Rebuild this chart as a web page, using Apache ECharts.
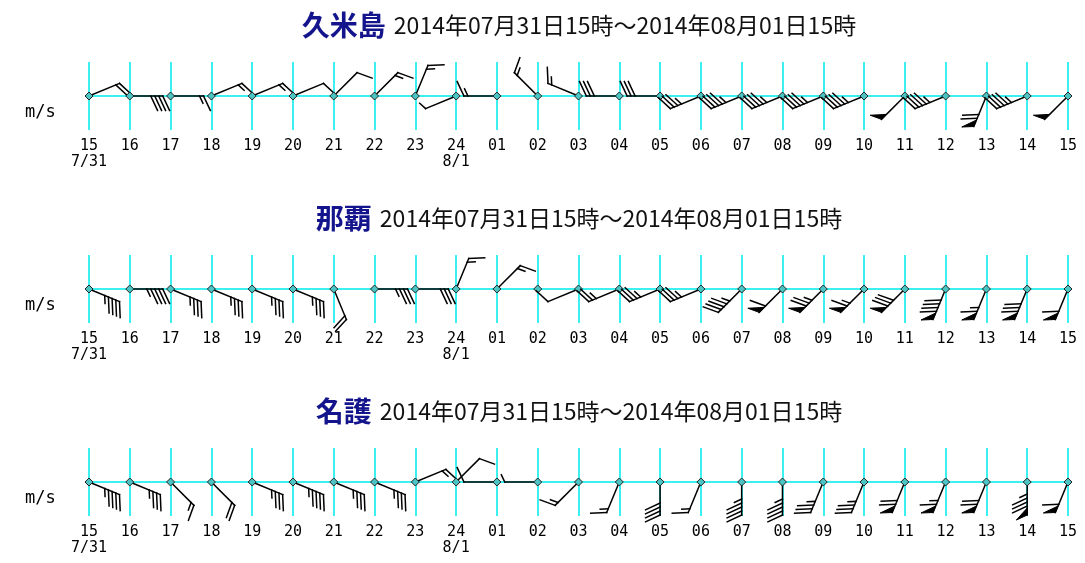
<!DOCTYPE html>
<html>
<head>
<meta charset="utf-8">
<script src="https://cdn.jsdelivr.net/npm/echarts@6/dist/echarts.min.js"></script>
<style>html,body{margin:0;padding:0;background:#fff}#c{width:1085px;height:563px}</style>
</head>
<body>
<div id="c"></div>
<script>
// ---- data ----
const hourLabels = ['15','16','17','18','19','20','21','22','23','24','01','02','03','04','05','06','07','08','09','10','11','12','13','14','15'];
const dateLabels = ['7/31','','','','','','','','','8/1','','','','','','','','','','','','','','',''];
const stationNames = ['久米島','那覇','名護'];
const periodText = '2014年07月31日15時～2014年08月01日15時';

// wind direction (degrees, from which the wind blows) and speed (m/s)
const kumeDir = [67.5,90,90,67.5,67.5,67.5,45,45,22.5,247.5,270,315,292.5,270,270,247.5,247.5,247.5,247.5,247.5,225,247.5,202.5,247.5,225];
const kumeSpd = [4,8,3,3,3,2,2,3,3,1,3,3,3,6,6,7,9,9,9,9,10,9,14,9,10];
const nahaDir = [112.5,90,112.5,112.5,112.5,112.5,157.5,90,90,22.5,45,0,247.5,247.5,247.5,247.5,225,225,225,225,225,202.5,202.5,202.5,202.5];
const nahaSpd = [9,9,7,7,7,7,4,7,6,3,3,0,2,5,7,7,9,12,15,13,16,18,13,16,12];
const nagoDir = [112.5,112.5,135,135,112.5,112.5,112.5,112.5,67.5,45,270,270,225,202.5,180,202.5,180,180,202.5,202.5,202.5,202.5,202.5,180,202.5];
const nagoSpd = [9,7,3,4,7,9,7,7,3,2,2,1,3,3,8,3,9,9,7,7,14,13,14,17,12];

const dirs = [kumeDir, nahaDir, nagoDir];
const spds = [kumeSpd, nahaSpd, nagoSpd];

// ---- glyph style ----
const SHAFT = 33, LONG = 16, SHORT = 8, GAP = 4, PEN_LEN = 12, PEN_W = 7, BARB_ROT = 65;
const CYAN = '#3cf0f0';

function renderBarb(params, api) {
  const i = api.value(0);
  const dir = api.value(2);
  const spd = api.value(3);
  const p = api.coord([i, 0]);
  const children = [];
  const st = {stroke: '#000', lineWidth: 1.5, lineCap: 'square'};
  if (spd > 0) {
    const rad = dir * Math.PI / 180;
    const ux = Math.sin(rad), uy = -Math.cos(rad);
    const at = d => [p[0] + ux * d, p[1] + uy * d];
    const tip = at(SHAFT);
    children.push({type: 'line', shape: {x1: p[0], y1: p[1], x2: tip[0], y2: tip[1]}, style: st});
    const a = Math.atan2(uy, ux) + BARB_ROT * Math.PI / 180;
    const bx = Math.cos(a), by = Math.sin(a);
    const pen = Math.floor(spd / 10);
    const rem = spd - pen * 10;
    const lng = Math.floor(rem / 2);
    const sht = rem - lng * 2;
    let d = SHAFT;
    for (let k = 0; k < pen; k++) {
      const q0 = at(d), q1 = at(d - PEN_W);
      children.push({type: 'polygon', shape: {points: [q0, [q0[0] + bx * PEN_LEN, q0[1] + by * PEN_LEN], q1]},
        style: {fill: '#000', stroke: '#000', lineWidth: 1}});
      d -= PEN_W + 2;
    }
    for (let k = 0; k < lng; k++) {
      const q = at(d);
      children.push({type: 'line', shape: {x1: q[0], y1: q[1], x2: q[0] + bx * LONG, y2: q[1] + by * LONG}, style: st});
      d -= GAP;
    }
    for (let k = 0; k < sht; k++) {
      const q = at(d);
      children.push({type: 'line', shape: {x1: q[0], y1: q[1], x2: q[0] + bx * SHORT, y2: q[1] + by * SHORT}, style: st});
      d -= GAP;
    }
  }
  const r = 4;
  children.push({type: 'polygon', shape: {points: [[p[0], p[1] - r], [p[0] + r, p[1]], [p[0], p[1] + r], [p[0] - r, p[1]]]},
    style: {fill: '#4cc4c4', stroke: '#222', lineWidth: 1}});
  return {type: 'group', children};
}

const tops = [62, 255, 448];
const grids = [], xAxes = [], yAxes = [], series = [], graphics = [];
tops.forEach((t, g) => {
  grids.push({left: 89, right: 17, top: t, height: 68, outerBoundsMode: 'none', containLabel: false});
  xAxes.push({
    type: 'value', gridIndex: g, min: 0, max: 24, interval: 1,
    axisLine: {show: true, onZero: true, lineStyle: {color: CYAN, width: 2}},
    axisTick: {show: false},
    splitLine: {show: true, lineStyle: {color: CYAN, width: 2}},
    axisLabel: {
      margin: 8, color: '#000', fontSize: 15, lineHeight: 16,
      fontFamily: '"DejaVu Sans Mono", monospace', showMinLabel: true, showMaxLabel: true,
      formatter: v => hourLabels[v] + (dateLabels[v] ? '\n' + dateLabels[v] : '')
    }
  });
  yAxes.push({type: 'value', gridIndex: g, min: -1, max: 1, show: false});
  series.push({
    type: 'custom', xAxisIndex: g, yAxisIndex: g, z: 5, silent: true,
    renderItem: renderBarb,
    encode: {x: 0, y: 1},
    data: dirs[g].map((d, i) => [i, 0, d, spds[g][i]])
  });
  graphics.push({
    type: 'text', x: 579, y: t - 37,
    style: {
      text: '{n|' + stationNames[g] + '}{d|' + periodText + '}',
      align: 'center', verticalAlign: 'middle',
      rich: {
        n: {fontSize: 28, fontWeight: 'bold', fill: '#14148c', fontFamily: '"Noto Sans CJK JP"', padding: [0, 8, 0, 0]},
        d: {fontSize: 23, fill: '#111', fontFamily: '"Noto Sans CJK JP"'}
      }
    }
  });
  graphics.push({
    type: 'text', x: 25, y: t + 51,
    style: {text: 'm/s', font: '17px "DejaVu Sans Mono"', fill: '#000', verticalAlign: 'middle'}
  });
});

const chart = echarts.init(document.getElementById('c'), null, {renderer: 'canvas'});
chart.setOption({
  animation: false,
  backgroundColor: '#fff',
  grid: grids, xAxis: xAxes, yAxis: yAxes, series: series, graphic: graphics
});
</script>
</body>
</html>
